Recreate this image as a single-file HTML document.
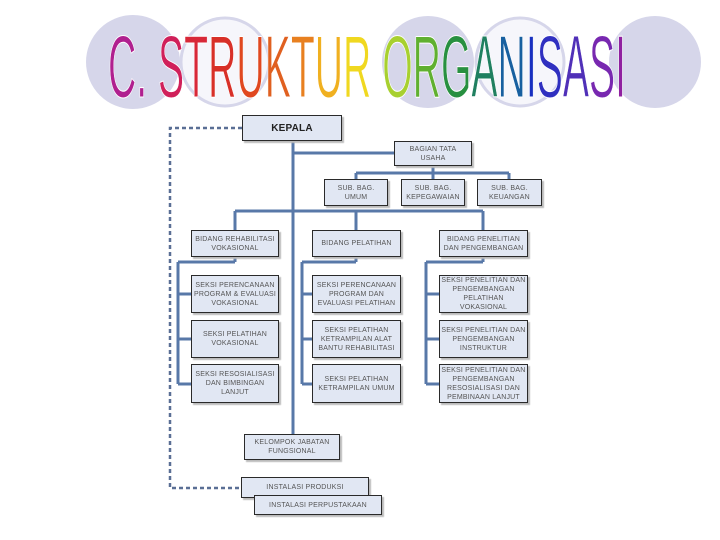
<!DOCTYPE html>
<html><head><meta charset="utf-8"><style>
html,body{margin:0;padding:0;background:#fff;}
.wrap{position:relative;width:720px;height:540px;overflow:hidden;font-family:"Liberation Sans",sans-serif;}
.b{position:absolute;box-sizing:border-box;background:#e1e7f3;border:1px solid #2a2a2a;box-shadow:2px 2px 1px #bbb;display:flex;align-items:center;justify-content:center;text-align:center;font-size:7px;line-height:9px;color:#555;letter-spacing:0.2px;}
</style></head><body><div class="wrap">
<svg width="720" height="540" style="position:absolute;left:0;top:0">
<circle cx="133" cy="62" r="47" fill="#d6d6ea"/>
<circle cx="225" cy="62" r="44" fill="#f6f6fb" stroke="#d6d6ea" stroke-width="3"/>
<circle cx="428" cy="62" r="46" fill="#d6d6ea"/>
<circle cx="520" cy="62" r="44" fill="#f6f6fb" stroke="#d6d6ea" stroke-width="3"/>
<circle cx="655" cy="62" r="46" fill="#d6d6ea"/>
<g transform="translate(108,97) scale(1,2.0)">
<text x="0" y="0" font-family="Liberation Sans, sans-serif" font-size="44" textLength="518" lengthAdjust="spacingAndGlyphs" stroke="#fff" stroke-width="0.5"><tspan fill="#b0208f">C</tspan><tspan fill="#b0208f">.</tspan><tspan> </tspan><tspan fill="#d0205a">S</tspan><tspan fill="#d82838">T</tspan><tspan fill="#d83028">R</tspan><tspan fill="#e04820">U</tspan><tspan fill="#e06020">K</tspan><tspan fill="#e88020">T</tspan><tspan fill="#f0b020">U</tspan><tspan fill="#f0d820">R</tspan><tspan>  </tspan><tspan fill="#a8d030">O</tspan><tspan fill="#60b030">R</tspan><tspan fill="#289040">G</tspan><tspan fill="#208060">A</tspan><tspan fill="#1860a0">N</tspan><tspan fill="#1830c0">I</tspan><tspan fill="#3030c0">S</tspan><tspan fill="#5030b8">A</tspan><tspan fill="#7828b0">S</tspan><tspan fill="#9020a0">I</tspan></text>
</g>
<g stroke="#5878a8" stroke-width="3" fill="none">
<line x1="293" y1="141" x2="293" y2="435"/>
<line x1="293" y1="153" x2="394" y2="153"/>
<line x1="433" y1="166" x2="433" y2="173"/>
<line x1="356" y1="173" x2="509" y2="173"/>
<line x1="356" y1="173" x2="356" y2="179"/>
<line x1="433" y1="173" x2="433" y2="179"/>
<line x1="509" y1="173" x2="509" y2="179"/>
<line x1="235" y1="211" x2="483" y2="211"/>
<line x1="235" y1="211" x2="235" y2="230"/>
<line x1="356" y1="211" x2="356" y2="230"/>
<line x1="483" y1="211" x2="483" y2="230"/>
<line x1="235" y1="257" x2="235" y2="262"/>
<line x1="178" y1="262" x2="235" y2="262"/>
<line x1="178" y1="262" x2="178" y2="384"/>
<line x1="178" y1="294" x2="191" y2="294"/>
<line x1="178" y1="339" x2="191" y2="339"/>
<line x1="178" y1="384" x2="191" y2="384"/>
<line x1="356" y1="257" x2="356" y2="262"/>
<line x1="302" y1="262" x2="356" y2="262"/>
<line x1="302" y1="262" x2="302" y2="384"/>
<line x1="302" y1="294" x2="312" y2="294"/>
<line x1="302" y1="339" x2="312" y2="339"/>
<line x1="302" y1="384" x2="312" y2="384"/>
<line x1="483" y1="257" x2="483" y2="262"/>
<line x1="426" y1="262" x2="483" y2="262"/>
<line x1="426" y1="262" x2="426" y2="384"/>
<line x1="426" y1="294" x2="439" y2="294"/>
<line x1="426" y1="339" x2="439" y2="339"/>
<line x1="426" y1="384" x2="439" y2="384"/>
</g>
<polyline points="242,128 170,128 170,488 241,488" fill="none" stroke="#5a6f95" stroke-width="2.5" stroke-dasharray="4,3"/>
</svg>
<div class="b" style="left:242px;top:115px;width:100px;height:26px;font-size:10px;font-weight:bold;color:#222;">KEPALA</div>
<div class="b" style="left:394px;top:141px;width:78px;height:25px;">BAGIAN TATA<br>USAHA</div>
<div class="b" style="left:324px;top:179px;width:64px;height:27px;">SUB. BAG.<br>UMUM</div>
<div class="b" style="left:401px;top:179px;width:64px;height:27px;">SUB. BAG.<br>KEPEGAWAIAN</div>
<div class="b" style="left:477px;top:179px;width:65px;height:27px;">SUB. BAG.<br>KEUANGAN</div>
<div class="b" style="left:191px;top:230px;width:88px;height:27px;">BIDANG REHABILITASI<br>VOKASIONAL</div>
<div class="b" style="left:312px;top:230px;width:89px;height:27px;">BIDANG PELATIHAN</div>
<div class="b" style="left:439px;top:230px;width:89px;height:27px;">BIDANG PENELITIAN<br>DAN PENGEMBANGAN</div>
<div class="b" style="left:191px;top:275px;width:88px;height:38px;">SEKSI PERENCANAAN<br>PROGRAM &amp; EVALUASI<br>VOKASIONAL</div>
<div class="b" style="left:191px;top:320px;width:88px;height:38px;">SEKSI PELATIHAN<br>VOKASIONAL</div>
<div class="b" style="left:191px;top:364px;width:88px;height:39px;">SEKSI RESOSIALISASI<br>DAN BIMBINGAN<br>LANJUT</div>
<div class="b" style="left:312px;top:275px;width:89px;height:38px;">SEKSI PERENCANAAN<br>PROGRAM DAN<br>EVALUASI PELATIHAN</div>
<div class="b" style="left:312px;top:320px;width:89px;height:38px;">SEKSI PELATIHAN<br>KETRAMPILAN ALAT<br>BANTU REHABILITASI</div>
<div class="b" style="left:312px;top:364px;width:89px;height:39px;">SEKSI PELATIHAN<br>KETRAMPILAN UMUM</div>
<div class="b" style="left:439px;top:275px;width:89px;height:38px;">SEKSI PENELITIAN DAN<br>PENGEMBANGAN<br>PELATIHAN<br>VOKASIONAL</div>
<div class="b" style="left:439px;top:320px;width:89px;height:38px;">SEKSI PENELITIAN DAN<br>PENGEMBANGAN<br>INSTRUKTUR</div>
<div class="b" style="left:439px;top:364px;width:89px;height:39px;">SEKSI PENELITIAN DAN<br>PENGEMBANGAN<br>RESOSIALISASI DAN<br>PEMBINAAN LANJUT</div>
<div class="b" style="left:244px;top:434px;width:96px;height:26px;">KELOMPOK JABATAN<br>FUNGSIONAL</div>
<div class="b" style="left:241px;top:477px;width:128px;height:21px;">INSTALASI PRODUKSI</div>
<div class="b" style="left:254px;top:495px;width:128px;height:20px;">INSTALASI PERPUSTAKAAN</div>
</div></body></html>
